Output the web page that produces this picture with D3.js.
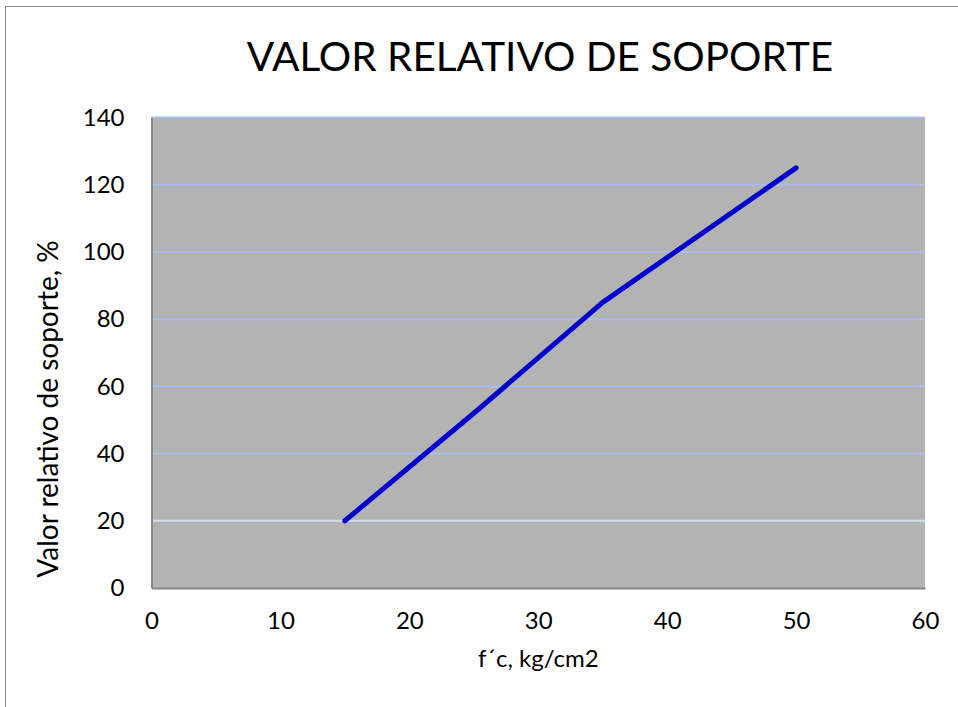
<!DOCTYPE html>
<html lang="es">
<head>
    <meta charset="UTF-8">
    <title>Valor relativo de soporte</title>
    <script src="https://d3js.org/d3.v7.min.js"></script>
    <style>
        body {
            margin: 0;
            background-color: white;
            font-family: Lato, "Open Sans", sans-serif;
        }
        svg text { fill: #000; }
    </style>
</head>
<body>
    <div id="chart"></div>
    <script>
        // Data
        const fc = [15, 25, 35, 50];          // f'c, kg/cm2
        const vrs = [20, 52, 85, 125];        // valor relativo de soporte, %
        const xTicks = [0, 10, 20, 30, 40, 50, 60];
        const yTicks = [0, 20, 40, 60, 80, 100, 120, 140];

        const W = 958, H = 707;
        const margin = {top: 117.5, right: 33, bottom: 119, left: 151.5};
        const width = W - margin.left - margin.right,
              height = H - margin.top - margin.bottom;

        const svg = d3.select("#chart")
          .append("svg")
            .attr("width", W)
            .attr("height", H);

        // Outer chart frame
        svg.append("rect")
            .attr("x", 5.5).attr("y", 6.5)
            .attr("width", W).attr("height", H)
            .attr("fill", "none")
            .attr("stroke", "#8c8c8c")
            .attr("stroke-width", 1);

        const g = svg.append("g")
            .attr("transform", `translate(${margin.left},${margin.top})`);

        const x = d3.scaleLinear().domain([0, 60]).range([0, width]);
        const y = d3.scaleLinear().domain([0, 140]).range([height, 0]);

        // Plot area background
        g.append("rect")
            .attr("width", width)
            .attr("height", height)
            .attr("fill", "#b3b3b3");

        // Horizontal gridlines
        g.selectAll(".grid")
            .data(yTicks.filter(d => d > 0))
            .enter()
            .append("line")
            .attr("class", "grid")
            .attr("x1", 0).attr("x2", width)
            .attr("y1", d => y(d)).attr("y2", d => y(d))
            .attr("stroke", d => d === 20 ? "#d4dcef" : "#a9bde6")
            .attr("stroke-width", 2);

        // Axes
        const xAxis = g.append("g")
            .attr("transform", `translate(0,${height})`)
            .call(d3.axisBottom(x).tickValues(xTicks).tickSize(0).tickPadding(24));
        const yAxis = g.append("g")
            .call(d3.axisLeft(y).tickValues(yTicks).tickSize(0).tickPadding(27));

        [xAxis, yAxis].forEach(a => {
            a.select(".domain").attr("stroke", "#868686").attr("stroke-width", 2);
            a.selectAll("text")
                .style("font-family", "Lato, 'Open Sans', sans-serif")
                .style("font-size", "24px")
                .attr("fill", "#000");
        });

        // Data line
        const line = d3.line()
            .x((d, i) => x(fc[i]))
            .y(d => y(d));

        g.append("path")
            .datum(vrs)
            .attr("fill", "none")
            .attr("stroke", "#0000cc")
            .attr("stroke-width", 5)
            .attr("stroke-linecap", "round")
            .attr("stroke-linejoin", "round")
            .attr("d", line);

        // Title
        svg.append("text")
            .attr("x", 540)
            .attr("y", 71)
            .attr("text-anchor", "middle")
            .style("font-size", "40.5px")
            .text("VALOR RELATIVO DE SOPORTE");

        // Axis titles
        svg.append("text")
            .attr("x", margin.left + width / 2)
            .attr("y", 667)
            .attr("text-anchor", "middle")
            .style("font-size", "24px")
            .text("f\u00b4c, kg/cm2");

        svg.append("text")
            .attr("transform", "translate(58,409) rotate(-90)")
            .attr("text-anchor", "middle")
            .style("font-size", "28px")
            .text("Valor relativo de soporte, %");
    </script>
</body>
</html>
